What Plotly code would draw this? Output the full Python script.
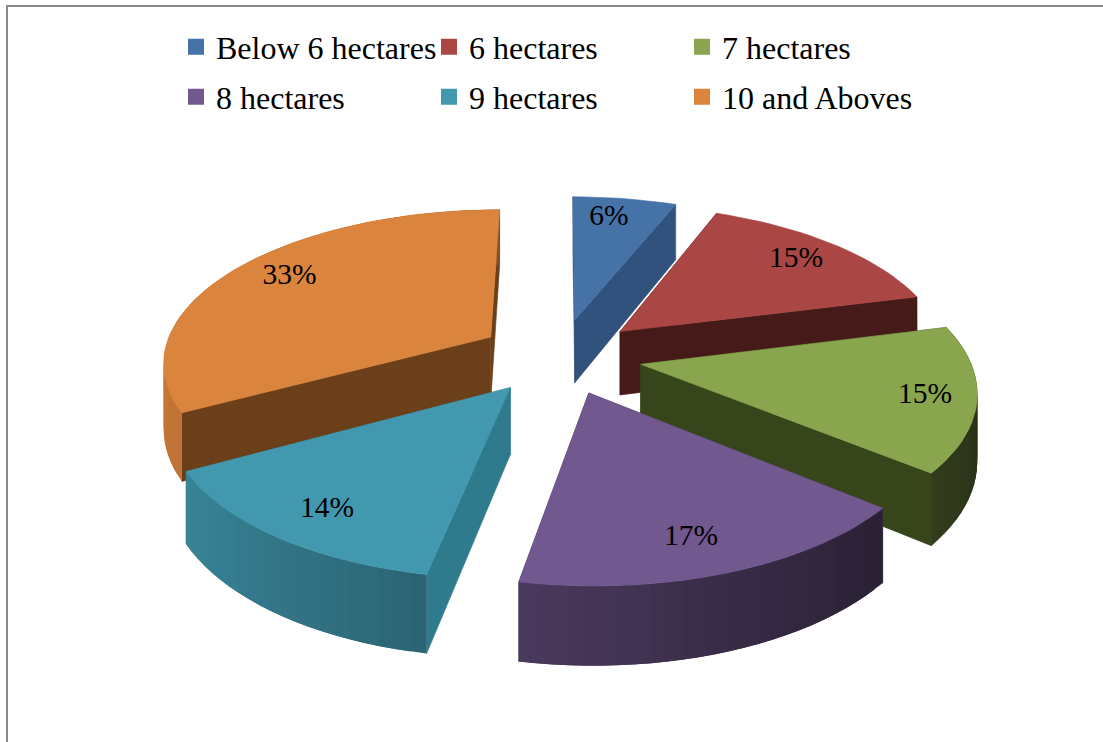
import math
import plotly.graph_objects as go

categories = ["Below 6 hectares", "6 hectares", "7 hectares", "8 hectares", "9 hectares", "10 and Aboves"]
shares = [6, 15, 15, 17, 14, 33]
colors = ["#4572A7", "#AA4643", "#89A54E", "#71588F", "#4198AF", "#DB843D"]
wall_colors = ["#30527C", "#451A18", "#37451B", "#4A3A5E", "#2F7A8C", "#6A3F1A"]
paint_order = [0, 1, 5, 2, 4, 3]
label_nudge_x = [-7, 2, 17, -6, -1, 4]
label_nudge_y = [-3, -1, 4, 6, 6, -4]

W, H = 1103, 742
CX, CY, R = 560, 356, 328
EXPLODE, TILT, DEPTH, PERSP = 0.25, 0.4625, 65, 0.15
FONT = "Liberation Serif"
FS_LEGEND = 32
FS_LABEL = 29.5


def proj(X, Y, z=0.0):
    """X right, Y towards viewer in pie radii; z = drop of the base in px."""
    s = 1 / (1 - Y * PERSP)
    return CX + R * X * s, CY + (R * Y * TILT + z) * s


def rim(a):
    return math.sin(a), -math.cos(a)


def shade(hex_color, f):
    r, g, b = [int(hex_color[i:i + 2], 16) for i in (1, 3, 5)]
    return f"rgb({r * f:.0f},{g * f:.0f},{b * f:.0f})"


def poly(fig, pts, color, lw=0.6):
    xs = [p[0] for p in pts] + [pts[0][0]]
    ys = [p[1] for p in pts] + [pts[0][1]]
    fig.add_trace(go.Scatter(x=xs, y=ys, mode="lines", fill="toself", fillcolor=color,
                             line=dict(color=color, width=lw), hoverinfo="skip", showlegend=False))


total = sum(shares)
spans, c = [], 0
for v in shares:
    spans.append((c / total * 2 * math.pi, (c + v) / total * 2 * math.pi))
    c += v

fig = go.Figure()
labels_x, labels_y, labels_t = [], [], []

for i in paint_order:
    a0, a1 = spans[i]
    mid = (a0 + a1) / 2
    ox, oy = EXPLODE * math.sin(mid), -EXPLODE * math.cos(mid)
    n = max(6, int((a1 - a0) / 0.04))
    angles = [a0 + (a1 - a0) * k / n for k in range(n + 1)]
    P = lambda a, z=0.0: proj(ox + rim(a)[0], oy + rim(a)[1], z)
    apex = proj(ox, oy)
    apex_b = proj(ox, oy, DEPTH)
    # radial walls
    poly(fig, [apex, P(a0), P(a0, DEPTH), apex_b], wall_colors[i])
    poly(fig, [apex, P(a1), P(a1, DEPTH), apex_b], wall_colors[i])
    # curved outer wall, lit from the left; each band overlaps the next to avoid seams
    for k in range(n):
        a, b = angles[k], angles[k + 1]
        if -math.cos((a + b) / 2) < -0.25 and not (i == 5):
            continue
        f = 0.6 - 0.3 * math.sin((a + b) / 2)
        b2 = angles[min(k + 2, n)]
        poly(fig, [P(a), P(b2), P(b2, DEPTH), P(a, DEPTH)], shade(colors[i], f), lw=0)
    # top face
    poly(fig, [apex] + [P(a) for a in angles], colors[i])
    lx, ly = proj(ox + 0.8 * math.sin(mid), oy - 0.8 * math.cos(mid))
    labels_x.append(lx + label_nudge_x[i])
    labels_y.append(ly + label_nudge_y[i])
    labels_t.append(f"{shares[i]}%")

fig.add_trace(go.Scatter(x=labels_x, y=labels_y, text=labels_t, mode="text",
                         textfont=dict(family=FONT, size=FS_LABEL, color="black"),
                         hoverinfo="skip", showlegend=False))

for i, name in enumerate(categories):
    fig.add_trace(go.Scatter(x=[None], y=[None], mode="markers", name=name,
                             marker=dict(symbol="square", size=16, color=colors[i]),
                             legend="legend" if i < 3 else "legend2"))

leg = dict(orientation="h", entrywidth=208, entrywidthmode="pixels", xanchor="left", yanchor="middle",
           font=dict(family=FONT, size=FS_LEGEND, color="black"), bgcolor="rgba(0,0,0,0)", itemclick=False,
           itemdoubleclick=False, traceorder="normal")
fig.update_layout(
    width=W, height=H, margin=dict(l=0, r=0, t=0, b=0), paper_bgcolor="white", plot_bgcolor="white",
    xaxis=dict(range=[0, W], visible=False, fixedrange=True),
    yaxis=dict(range=[H, 0], visible=False, fixedrange=True),
    legend=dict(leg, x=176 / W, y=1 - 47 / H),
    legend2=dict(leg, x=176 / W, y=1 - 97 / H),
    shapes=[
        dict(type="line", xref="paper", yref="paper", x0=7 / W, x1=7 / W, y0=0, y1=1 - 6 / H,
             line=dict(color="#8C8C8C", width=2)),
        dict(type="line", xref="paper", yref="paper", x0=6 / W, x1=1, y0=1 - 6 / H, y1=1 - 6 / H,
             line=dict(color="#8C8C8C", width=2)),
    ],
)
fig.write_html("out.html", config=dict(displayModeBar=False),
               post_script="document.body.style.margin='0';document.body.style.overflow='hidden';")
